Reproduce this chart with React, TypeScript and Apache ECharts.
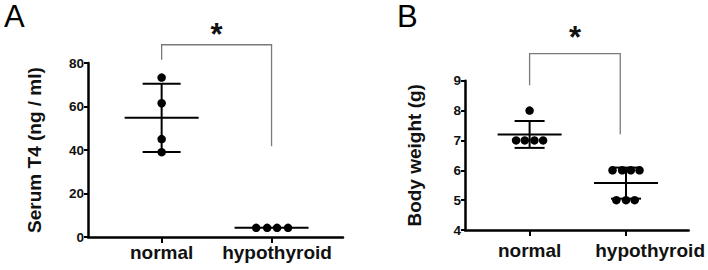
import React, { useEffect, useRef } from "react";
import * as echarts from "echarts";

// ---- data ----
const categories = ["normal", "hypothyroid"];

// Panel A: Serum T4 (ng / ml)
const t4NormalX = [1, 1, 1, 1];
const t4NormalY = [73.3, 61.5, 45.0, 39.0];
const t4HypoX = [1.86, 1.96, 2.05, 2.15];
const t4HypoY = [4.2, 4.2, 4.2, 4.2];
const t4Mean = [54.8, 4.2];
const t4Sd = [15.7, 0];

// Panel B: Body weight (g)
const bwNormalX = [1, 0.86, 0.95, 1.05, 1.14];
const bwNormalY = [8.0, 7.0, 7.0, 7.0, 7.0];
const bwHypoX = [1.86, 1.96, 2.05, 2.14, 1.9, 2.0, 2.09];
const bwHypoY = [6.0, 6.0, 6.0, 6.0, 5.0, 5.0, 5.0];
const bwMean = [7.2, 5.57];
const bwSd = [0.45, 0.52];

// significance brackets: [x1, y1 bottom, y top, x2, y2 bottom, star y]
const bracketA = [1, 81.5, 88.4, 2, 41.7, 93.2];
const bracketB = [1, 8.85, 9.91, 1.94, 7.21, 10.44];

const FONT = "'Liberation Sans', Arial, Helvetica, sans-serif";

function zip(xs: number[], ys: number[]) {
  return xs.map((x, i) => [x, ys[i]]);
}

function errorSeries(gi: number, means: number[], sds: number[], meanHalf: number, capHalf: number) {
  return {
    type: "custom",
    xAxisIndex: gi,
    yAxisIndex: gi,
    clip: false,
    data: means.map((m, i) => [i + 1, m, sds[i]]),
    renderItem: (params: any, api: any) => {
      const x = api.value(0);
      const m = api.value(1);
      const sd = api.value(2);
      const c = api.coord([x, m]);
      const style = { stroke: "#000", lineWidth: 2 };
      const children: any[] = [
        { type: "line", shape: { x1: c[0] - meanHalf, y1: c[1], x2: c[0] + meanHalf, y2: c[1] }, style },
      ];
      if (sd > 0) {
        const t = api.coord([x, m + sd]);
        const b = api.coord([x, m - sd]);
        children.push(
          { type: "line", shape: { x1: t[0], y1: t[1], x2: b[0], y2: b[1] }, style },
          { type: "line", shape: { x1: t[0] - capHalf, y1: t[1], x2: t[0] + capHalf, y2: t[1] }, style },
          { type: "line", shape: { x1: b[0] - capHalf, y1: b[1], x2: b[0] + capHalf, y2: b[1] }, style }
        );
      }
      return { type: "group", children };
    },
    z: 2,
  };
}

function bracketSeries(gi: number, br: number[]) {
  return {
    type: "custom",
    xAxisIndex: gi,
    yAxisIndex: gi,
    clip: false,
    data: [br],
    renderItem: (params: any, api: any) => {
      const p1 = api.coord([api.value(0), api.value(1)]);
      const p2 = api.coord([api.value(0), api.value(2)]);
      const p3 = api.coord([api.value(3), api.value(2)]);
      const p4 = api.coord([api.value(3), api.value(4)]);
      const s = api.coord([(api.value(0) + api.value(3)) / 2, api.value(5)]);
      return {
        type: "group",
        children: [
          {
            type: "polyline",
            shape: { points: [p1, p2, p3, p4] },
            style: { stroke: "#7a7a7a", lineWidth: 1.3, fill: "none" },
          },
          {
            type: "text",
            x: s[0],
            y: s[1],
            style: {
              text: "*",
              fontSize: 31,
              fontWeight: "bold",
              fontFamily: FONT,
              fill: "#111",
              align: "center",
              verticalAlign: "middle",
            },
          },
        ],
      };
    },
  };
}

function scatter(gi: number, pts: number[][]) {
  return {
    type: "scatter",
    xAxisIndex: gi,
    yAxisIndex: gi,
    data: pts,
    symbol: "circle",
    symbolSize: 8.5,
    itemStyle: { color: "#000", opacity: 1 },
    clip: false,
    z: 3,
  };
}

function xAxis(gi: number, hypLabelX: number, margin: number) {
  return {
    gridIndex: gi,
    type: "value",
    min: 0.33,
    max: 2.65,
    splitLine: { show: false },
    axisLine: { show: true, lineStyle: { color: "#000", width: 2.5 } },
    axisTick: { show: true, customValues: [1, 2], length: 6, lineStyle: { color: "#000", width: 2 } },
    axisLabel: {
      customValues: [1, hypLabelX],
      formatter: (v: number) => (v < 1.5 ? categories[0] : categories[1]),
      fontSize: 19,
      fontWeight: "bold",
      fontFamily: FONT,
      color: "#111",
      margin,
    },
  };
}

function yAxis(gi: number, min: number, max: number, interval: number, name: string, gap: number) {
  return {
    gridIndex: gi,
    type: "value",
    min,
    max,
    interval,
    name,
    nameLocation: "middle",
    nameGap: gap,
    nameTextStyle: { fontSize: 19, fontWeight: "bold", fontFamily: FONT, color: "#111" },
    splitLine: { show: false },
    axisLine: { show: true, lineStyle: { color: "#000", width: 2.5 } },
    axisTick: { show: true, length: 4, lineStyle: { color: "#000", width: 2 } },
    axisLabel: { fontSize: 13.5, fontWeight: "bold", fontFamily: FONT, color: "#111", margin: 4 },
  };
}

export default function App() {
  const ref = useRef<HTMLDivElement>(null);
  useEffect(() => {
    document.body.style.margin = "0";
    const chart = echarts.init(ref.current!, null, { renderer: "svg" });
    chart.setOption({
      animation: false,
      backgroundColor: "#fff",
      grid: [
        { left: 88, top: 63, width: 255, height: 174 },
        { left: 465, top: 80.7, width: 225, height: 149.3 },
      ],
      xAxis: [xAxis(0, 2.05, 6), xAxis(1, 2.25, 11)],
      yAxis: [
        yAxis(0, 0, 80, 20, "Serum T4 (ng / ml)", 44),
        yAxis(1, 4, 9, 1, "Body weight (g)", 41),
      ],
      series: [
        errorSeries(0, t4Mean, t4Sd, 37, 19),
        errorSeries(1, bwMean, bwSd, 32, 15),
        bracketSeries(0, bracketA),
        bracketSeries(1, bracketB),
        scatter(0, zip(t4NormalX, t4NormalY)),
        scatter(0, zip(t4HypoX, t4HypoY)),
        scatter(1, zip(bwNormalX, bwNormalY)),
        scatter(1, zip(bwHypoX, bwHypoY)),
      ],
      graphic: [
        { type: "text", x: 4, y: 1, style: { text: "A", fontSize: 31, fontFamily: FONT, fill: "#000" } },
        { type: "text", x: 397, y: 1, style: { text: "B", fontSize: 31, fontFamily: FONT, fill: "#000" } },
      ],
    });
    return () => chart.dispose();
  }, []);
  return <div ref={ref} style={{ width: 708, height: 270 }} />;
}
